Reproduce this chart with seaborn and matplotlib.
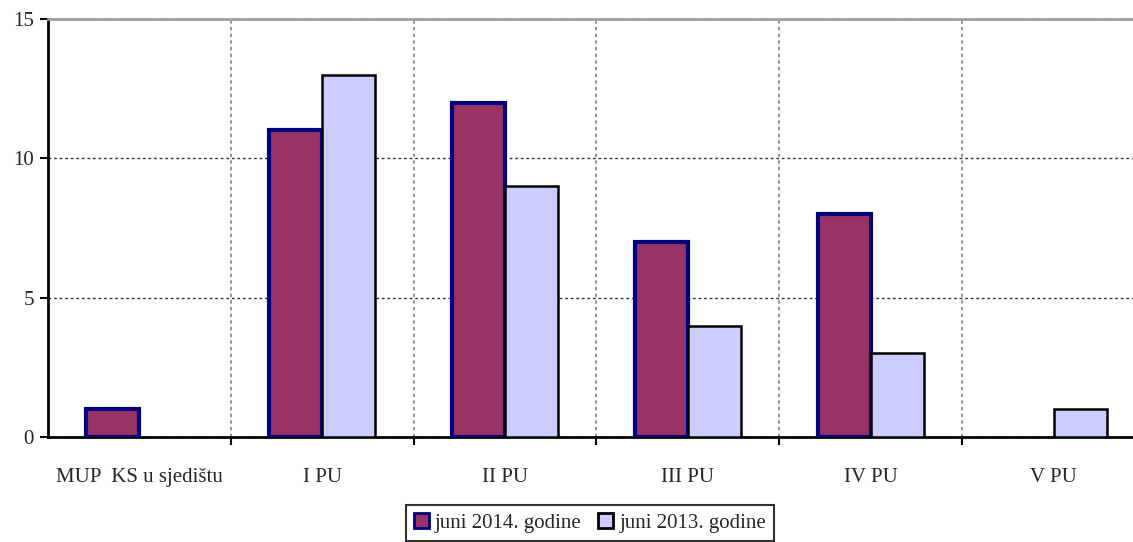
import pandas as pd
import matplotlib.pyplot as plt
import seaborn as sns
from matplotlib.patches import Patch

categories = ['MUP  KS u sjedištu', 'I PU', 'II PU', 'III PU', 'IV PU', 'V PU']
series_2014 = [1, 11, 12, 7, 8, 0]
series_2013 = [0, 13, 9, 4, 3, 1]
label_2014 = 'juni 2014. godine'
label_2013 = 'juni 2013. godine'

df = pd.DataFrame({
    'kategorija': categories * 2,
    'vrijednost': series_2014 + series_2013,
    'serija': [label_2014] * len(categories) + [label_2013] * len(categories),
})

sns.set_style('white')
plt.rcParams['font.family'] = ['Liberation Serif', 'DejaVu Serif']

fig = plt.figure(figsize=(11.33, 5.42), dpi=100)
ax = fig.add_axes([48 / 1133, 105 / 542, 1097 / 1133, 418 / 542])

colors = {label_2014: '#993366', label_2013: '#CCCCFF'}
edges = {label_2014: '#000080', label_2013: '#000000'}
widths = {label_2014: 3, label_2013: 1.8}

sns.barplot(data=df, x='kategorija', y='vrijednost', hue='serija',
            hue_order=[label_2014, label_2013], palette=colors,
            width=0.58, saturation=1, legend=False, ax=ax, zorder=3)

for cont, lab in zip(ax.containers, [label_2014, label_2013]):
    for bar in cont:
        if bar.get_height() == 0:
            bar.set_visible(False)
        bar.set_edgecolor(edges[lab])
        bar.set_linewidth(widths[lab])

ax.set_xlim(-0.5, len(categories) - 0.5)
ax.set_ylim(0, 15)
ax.set_yticks([0, 5, 10, 15])
ax.set_xlabel('')
ax.set_ylabel('')

ax.set_xticks([i + 0.5 for i in range(len(categories) - 1)], minor=True)
ax.tick_params(axis='x', which='major', length=0, pad=22, labelsize=15)
ax.tick_params(axis='x', which='minor', direction='out', length=6, width=1.5,
               color='black', bottom=True)
ax.tick_params(axis='y', direction='out', length=6, width=1.5, color='black',
               left=True, labelsize=15, pad=4)

ax.grid(False)
ax.yaxis.grid(True, linestyle=(0, (2, 2)), color='#333333', linewidth=1)
ax.xaxis.grid(True, which='minor', linestyle=(0, (2, 2)), color='#808080', linewidth=1.2)
ax.set_axisbelow(True)

for side in ['left', 'bottom']:
    ax.spines[side].set_color('black')
    ax.spines[side].set_linewidth(2)
ax.spines['top'].set_color('#a0a0a0')
ax.spines['top'].set_linewidth(2)
ax.spines['right'].set_visible(False)

handles = [Patch(facecolor=colors[l], edgecolor=edges[l], linewidth=2) for l in [label_2014, label_2013]]
leg = fig.legend(handles, [label_2014, label_2013], loc='upper center',
                 bbox_to_anchor=(590 / 1133, 37 / 542), borderaxespad=0, ncol=2,
                 fontsize=15, frameon=True, fancybox=False, handlelength=0.7,
                 handleheight=0.7, handletextpad=0.3, columnspacing=0.8, borderpad=0.4)
leg.get_frame().set_edgecolor('black')
leg.get_frame().set_linewidth(1.5)

fig.savefig('out.png', dpi=100)
